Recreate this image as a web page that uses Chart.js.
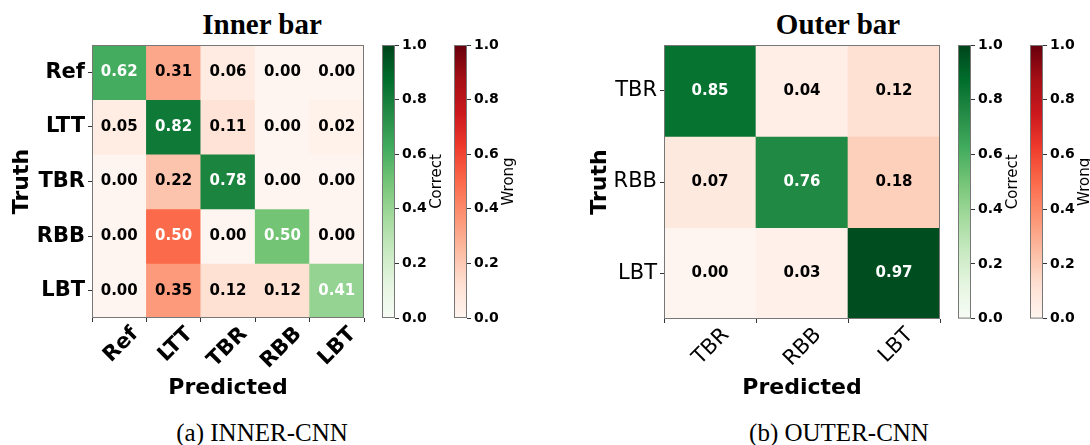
<!DOCTYPE html>
<html>
<head>
<meta charset="utf-8">
<script src="https://cdn.jsdelivr.net/npm/chart.js@4.4.0/dist/chart.umd.min.js"></script>
<style>
  body { margin: 0; background: #fff; width: 1090px; height: 445px; position: relative; overflow: hidden; }
  canvas { position: absolute; top: 0; }
  .title { position: absolute; font-family: "Liberation Serif"; font-weight: bold; font-size: 29px; line-height: 29px; transform: translateX(-50%); white-space: nowrap; color: #000; }
  .caption { position: absolute; font-family: "Liberation Serif"; font-size: 25px; line-height: 25px; transform: translateX(-50%); white-space: nowrap; color: #000; }
</style>
</head>
<body>
<div class="title" style="left:262px; top:10px">Inner bar</div>
<div class="title" style="left:838px; top:10px">Outer bar</div>

<canvas id="inner" width="380" height="405" style="left:0px"></canvas>
<canvas id="innerGreen" width="80" height="330" style="left:376px"></canvas>
<canvas id="innerRed" width="80" height="330" style="left:448px"></canvas>

<canvas id="outer" width="390" height="405" style="left:570px"></canvas>
<canvas id="outerGreen" width="80" height="330" style="left:952px"></canvas>
<canvas id="outerRed" width="80" height="330" style="left:1024px"></canvas>

<div class="caption" style="left:262px; top:420px">(a) INNER-CNN</div>
<div class="caption" style="left:839px; top:420px">(b) OUTER-CNN</div>

<script>
// data - rows = truth, columns = predicted
const innerClasses = ['Ref', 'LTT', 'TBR', 'RBB', 'LBT'];
const innerRef = [0.62, 0.31, 0.06, 0.00, 0.00];
const innerLTT = [0.05, 0.82, 0.11, 0.00, 0.02];
const innerTBR = [0.00, 0.22, 0.78, 0.00, 0.00];
const innerRBB = [0.00, 0.50, 0.00, 0.50, 0.00];
const innerLBT = [0.00, 0.35, 0.12, 0.12, 0.41];

const outerClasses = ['TBR', 'RBB', 'LBT'];
const outerTBR = [0.85, 0.04, 0.12];
const outerRBB = [0.07, 0.76, 0.18];
const outerLBT = [0.00, 0.03, 0.97];

const cbTicks = [0, 0.2, 0.4, 0.6, 0.8, 1.0];

// matplotlib Greens / Reds
const greens = ['#f7fcf5', '#e5f5e0', '#c7e9c0', '#a1d99b', '#74c476', '#41ab5d', '#238b45', '#006d2c', '#00441b'];
const reds = ['#fff5f0', '#fee0d2', '#fcbba1', '#fc9272', '#fb6a4a', '#ef3b2c', '#cb181d', '#a50f15', '#67000d'];

const sans = '"DejaVu Sans"';

function hexRgb(h) {
    return [1, 3, 5].map(i => parseInt(h.substr(i, 2), 16));
}

function cmap(stops, v) {
    const t = Math.min(Math.max(v, 0), 1) * (stops.length - 1);
    const i = Math.min(Math.floor(t), stops.length - 2);
    const f = t - i;
    const a = hexRgb(stops[i]), b = hexRgb(stops[i + 1]);
    const c = a.map((x, k) => Math.round(x + (b[k] - x) * f));
    return 'rgb(' + c.join(',') + ')';
}

// numbers in the cells + grey frame
const cellText = {
    id: 'cellText',
    afterDatasetsDraw(chart) {
        const ctx = chart.ctx;
        const area = chart.chartArea;
        ctx.save();
        ctx.font = 'bold 15px ' + sans;
        ctx.textAlign = 'center';
        ctx.textBaseline = 'middle';
        chart.data.datasets.forEach((ds, r) => {
            chart.getDatasetMeta(r).data.forEach((bar, c) => {
                const v = ds.values[c];
                ctx.fillStyle = v >= 0.4 ? '#fff' : '#000';
                ctx.fillText(v.toFixed(2), bar.x, (bar.y + bar.base) / 2);
            });
        });
        ctx.strokeStyle = '#777';
        ctx.lineWidth = 1;
        ctx.strokeRect(area.left + 0.5, area.top + 0.5, area.width - 1, area.height - 1);
        ctx.restore();
    }
};

function heatmap(id, classes, rows, o) {
    const n = classes.length;
    const datasets = rows.map((row, r) => ({
        data: row.map(() => [r, r + 1]),
        values: row,
        backgroundColor: row.map((v, c) => r === c ? cmap(greens, v) : cmap(reds, v)),
        borderWidth: 0,
        grouped: false,
        barPercentage: 1,
        categoryPercentage: 1
    }));
    const tickFont = { family: sans, size: 21, weight: o.bold ? 'bold' : 'normal' };
    const titleFont = { family: sans, size: 22, weight: 'bold' };

    new Chart(document.getElementById(id), {
        type: 'bar',
        data: { labels: classes, datasets: datasets },
        options: {
            responsive: false,
            animation: false,
            events: [],
            layout: { padding: { left: 0, right: o.padRight, top: 45, bottom: 0 } },
            plugins: { legend: { display: false }, tooltip: { enabled: false } },
            scales: {
                x: {
                    ticks: { font: tickFont, color: '#000', minRotation: 45, maxRotation: 45, autoSkip: false, labelOffset: 16, padding: 0 },
                    grid: { drawOnChartArea: false, tickLength: 4, color: '#333' },
                    border: { display: false },
                    title: { display: true, text: 'Predicted', font: titleFont, color: '#000', padding: { top: 0, bottom: 4 } },
                    afterFit: s => { s.height = o.xHeight; }
                },
                y: {
                    min: 0,
                    max: n,
                    reverse: true,
                    afterBuildTicks: s => { s.ticks = classes.map((_, i) => ({ value: i + 0.5 })); },
                    ticks: { font: tickFont, color: '#000', padding: 3, autoSkip: false, callback: (v, i) => classes[i] },
                    grid: { drawOnChartArea: false, tickLength: 4, color: '#333' },
                    border: { display: false },
                    title: { display: true, text: 'Truth', font: titleFont, color: '#000', padding: { top: o.truthPad, bottom: 0 } },
                    afterFit: s => { s.width = o.yWidth; }
                }
            }
        },
        plugins: [cellText]
    });
}

// colorbar label, reads bottom to top like matplotlib
const cbLabel = {
    id: 'cbLabel',
    afterDraw(chart, args, opts) {
        const ctx = chart.ctx;
        const area = chart.chartArea;
        ctx.save();
        ctx.strokeStyle = '#777';
        ctx.lineWidth = 1;
        ctx.strokeRect(area.left + 0.5, area.top + 0.5, area.width - 1, area.height - 1);
        ctx.translate(area.right + 46, (area.top + area.bottom) / 2);
        ctx.rotate(-Math.PI / 2);
        ctx.font = '15px ' + sans;
        ctx.fillStyle = '#000';
        ctx.textAlign = 'center';
        ctx.textBaseline = 'alphabetic';
        ctx.fillText(opts.text, 0, 0);
        ctx.restore();
    }
};

function gradient(chart, stops) {
    const area = chart.chartArea;
    if (!area) return stops[0];
    const g = chart.ctx.createLinearGradient(0, area.bottom, 0, area.top);
    stops.forEach((s, i) => g.addColorStop(i / (stops.length - 1), s));
    return g;
}

function colorbar(id, stops, label, padBottom) {
    new Chart(document.getElementById(id), {
        type: 'bar',
        data: {
            labels: [label],
            datasets: [{
                data: [[0, 1]],
                backgroundColor: c => gradient(c.chart, stops),
                borderWidth: 0,
                barPercentage: 1,
                categoryPercentage: 1
            }]
        },
        options: {
            responsive: false,
            animation: false,
            events: [],
            layout: { padding: { left: 6, right: 0, top: 45, bottom: padBottom } },
            plugins: { legend: { display: false }, tooltip: { enabled: false }, cbLabel: { text: label } },
            scales: {
                x: { display: false },
                y: {
                    position: 'right',
                    min: 0,
                    max: 1,
                    afterBuildTicks: s => { s.ticks = cbTicks.map(v => ({ value: v })); },
                    ticks: { font: { family: sans, size: 14, weight: 'bold' }, color: '#000', padding: 3, callback: v => v.toFixed(1) },
                    grid: { drawOnChartArea: false, tickLength: 4, color: '#333' },
                    border: { display: false },
                    afterFit: s => { s.width = 61; }
                }
            }
        },
        plugins: [cbLabel]
    });
}

heatmap('inner', innerClasses, [innerRef, innerLTT, innerTBR, innerRBB, innerLBT],
    { bold: true, padRight: 16, yWidth: 92, xHeight: 87, truthPad: 9 });
heatmap('outer', outerClasses, [outerTBR, outerRBB, outerLBT],
    { bold: false, padRight: 20, yWidth: 94, xHeight: 86, truthPad: 17 });

colorbar('innerGreen', greens, 'Correct', 12);
colorbar('innerRed', reds, 'Wrong', 12);
colorbar('outerGreen', greens, 'Correct', 11);
colorbar('outerRed', reds, 'Wrong', 11);
</script>
</body>
</html>
